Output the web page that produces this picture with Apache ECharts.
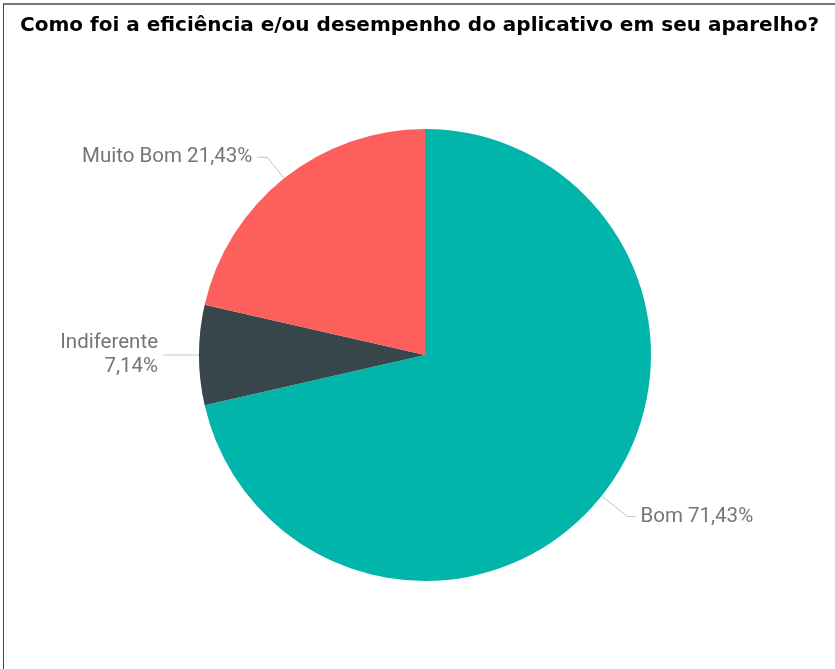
<!DOCTYPE html>
<html><head><meta charset="utf-8">
<script src="https://cdn.jsdelivr.net/npm/echarts@6/dist/echarts.min.js"></script>
<style>
html,body{margin:0;padding:0;background:#fff;}
#frame{position:absolute;left:3px;top:3px;width:832px;height:666px;border-left:1px solid #444;border-top:2px solid #777;box-sizing:border-box;}
#chart{position:absolute;left:0;top:0;width:835px;height:669px;}
</style>
</head><body>
<div id="frame"></div>
<div id="chart"></div>
<script>
const titleText = "Como foi a eficiência e/ou desempenho do aplicativo em seu aparelho?";
const categories = ["Bom", "Indiferente", "Muito Bom"];
const values = [71.43, 7.14, 21.43];
const labelTexts = ["Bom 71,43%", "Indiferente\n7,14%", "Muito Bom 21,43%"];
const colors = ["#02b5aa", "#36464a", "#fd5f5d"];
const lineLen = [[33, 8], [26, 10], [27, 10]];

const chart = echarts.init(document.getElementById('chart'), null, {renderer:'canvas'});
chart.setOption({
  animation:false,
  title:{text:titleText,left:15,top:11,textStyle:{fontFamily:'DejaVu Sans',fontWeight:'bold',fontSize:20,color:'#000'}},
  series:[{
    type:'pie',
    center:[425,355],
    radius:226,
    startAngle:90,
    clockwise:true,
    avoidLabelOverlap:false,
    data:categories.map((c,i)=>({name:c,value:values[i],itemStyle:{color:colors[i]},
      label:{formatter:labelTexts[i], align: i===1?'right':undefined},
      labelLine:{length:lineLen[i][0],length2:lineLen[i][1]}})),
    label:{show:true,color:'#757575',fontFamily:'Roboto, Arial',fontSize:20.5,lineHeight:24},
    labelLine:{show:true,lineStyle:{color:'#c4c4c4',width:1}}
  }]
});
</script>
</body></html>
